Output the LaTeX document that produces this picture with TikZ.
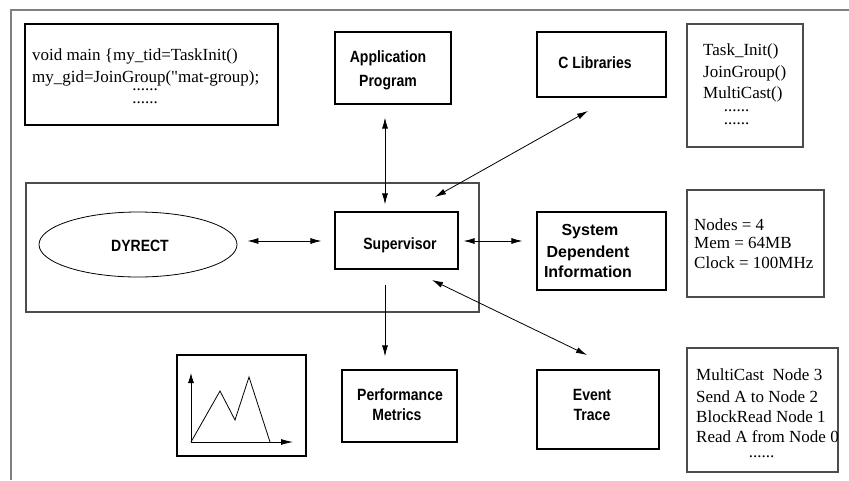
\documentclass[tikz,border=0pt]{standalone}
\usepackage{fontspec}
\setmainfont{Liberation Serif}
\newfontfamily\codefont{Liberation Serif}[Ligatures=TeXOff]
\newfontfamily\labfont{Liberation Sans}[FakeStretch=0.86]
\newfontfamily\widefont{Liberation Sans}
\usetikzlibrary{shapes.geometric,arrows.meta}
\begin{document}
\begin{tikzpicture}[x=1pt,y=-1pt,
 box/.style={draw,line width=1.1pt,inner sep=0pt},
 gbox/.style={draw=black!70,line width=1.2pt,inner sep=0pt},
 lab/.style={font=\labfont\bfseries\fontsize{16.3}{20}\selectfont,anchor=base,inner sep=0pt},
 wlab/.style={font=\widefont\bfseries\fontsize{16}{20}\selectfont,anchor=base,inner sep=0pt},
 ser/.style={font=\fontsize{17}{20}\selectfont,anchor=base west,inner sep=0pt},
 serc/.style={font=\fontsize{17}{20}\selectfont,anchor=base,inner sep=0pt},
 arr/.style={line width=0.8pt,-{Latex[length=11pt,width=6pt]}},
 barr/.style={line width=0.8pt,{Latex[length=11pt,width=6pt]}-{Latex[length=11pt,width=6pt]}}]
\useasboundingbox (0,0) rectangle (849,480);
\fill[white] (0,0) rectangle (849,480);
% outer frame (top and left edges visible)
\draw[black!50,line width=2pt] (11,480) -- (11,10) -- (849,10);

% boxes
\node[box,minimum width=253,minimum height=101] (code) at (151.5,74.5) {};
\node[box,minimum width=116,minimum height=72] (app) at (393,68) {};
\node[box,minimum width=129,minimum height=65] (clib) at (601.5,64.5) {};
\node[gbox,minimum width=116,minimum height=123] (lib) at (745,85.5) {};
\node[gbox,minimum width=453,minimum height=129] (big) at (252.5,247.5) {};
\node[draw,line width=0.8pt,ellipse,inner sep=0pt,minimum width=198,minimum height=65] (dyr) at (138,244.5) {};
\node[box,minimum width=123,minimum height=57] (sup) at (396.5,240.5) {};
\node[box,minimum width=129,minimum height=78] (sys) at (601.5,251) {};
\node[gbox,minimum width=137,minimum height=107] (cfg) at (755.5,243.5) {};
\node[box,minimum width=129,minimum height=101] (graph) at (241.5,405.5) {};
\node[box,minimum width=115,minimum height=72] (perf) at (399.5,406) {};
\node[box,minimum width=122,minimum height=79] (evt) at (598,409.5) {};
\node[gbox,minimum width=151,minimum height=124] (trace) at (762.5,410) {};

% labels
\node[lab] (appa) at (388,62) {Application};
\node[lab] (appb) at (388,86) {Program};
\node[lab] (clibt) at (595,68.5) {C Libraries};
\node[lab] (dyrt) at (140,251) {DYRECT};
\node[lab] (supt) at (400,249) {Supervisor};
\node[wlab] (sysa) at (590,235) {System};
\node[wlab] (sysb) at (588,257) {Dependent};
\node[wlab] (sysc) at (588,277) {Information};
\node[lab] (perfa) at (400,400) {Performance};
\node[lab] (perfb) at (397,420.7) {Metrics};
\node[lab] (evta) at (592,400) {Event};
\node[lab] (evtb) at (592,420.7) {Trace};

% code text
\node[ser] (c1) at (32,60) {void main \{my\_tid=TaskInit()};
\node[ser,font=\codefont\fontsize{17}{20}\selectfont] (c2) at (32,82) {my\_gid=JoinGroup("mat-group);};
\node[serc] (c3) at (145,90) {......};
\node[serc] (c4) at (145,103) {......};

% library text
\node[ser] (l1) at (703,55) {Task\_Init()};
\node[ser] (l2) at (703,77) {JoinGroup()};
\node[ser] (l3) at (703,98) {MultiCast()};
\node[serc] (l4) at (736.5,111) {......};
\node[serc] (l5) at (736.5,124) {......};

% config text
\node[ser] (n1) at (694,230) {Nodes = 4};
\node[ser] (n2) at (694,248) {Mem = 64MB};
\node[ser] (n3) at (694,268) {Clock = 100MHz};

% trace text
\node[ser] (t1) at (696,380) {MultiCast\ \ Node 3};
\node[ser] (t2) at (696,402) {Send A to Node 2};
\node[ser] (t3) at (696,422) {BlockRead Node 1};
\node[ser] (t4) at (696,442) {Read A from Node 0};
\node[serc] (t5) at (761.5,457) {......};

% connectors
\coordinate (vx) at (385,0);
\coordinate (hy) at (0,241);
\draw[barr,shorten <=13pt,shorten >=7pt] (app.south -| vx) -- (sup.north -| vx);
\draw[arr,shorten <=15pt,shorten >=13pt] (sup.south -| vx) -- (perf.north -| vx);
\draw[barr,shorten <=10pt,shorten >=13pt] (dyr.east |- hy) -- (sup.west |- hy);
\draw[barr,shorten <=5pt,shorten >=14pt] (sup.east |- hy) -- (sys.west |- hy);
\coordinate (sc) at (435,197);
\coordinate (cc) at (588,111);
\draw[barr] (sc) -- (cc);
\coordinate (se) at (432,280);
\coordinate (ec) at (587,355);
\draw[barr] (se) -- (ec);

% graph inside the chart box
\coordinate (o) at (191,442);
\coordinate (yt) at (191,373);
\coordinate (xt) at (293,442);
\draw[line width=0.8pt,-{Latex[length=10pt,width=6pt]}] (o) -- (yt);
\draw[line width=0.8pt,-{Latex[length=12pt,width=6pt]}] (o) -- (xt);
\draw[line width=0.8pt] (o) -- (220,391) -- (235,420) -- (249,377) -- (270,442);
\end{tikzpicture}
\end{document}
